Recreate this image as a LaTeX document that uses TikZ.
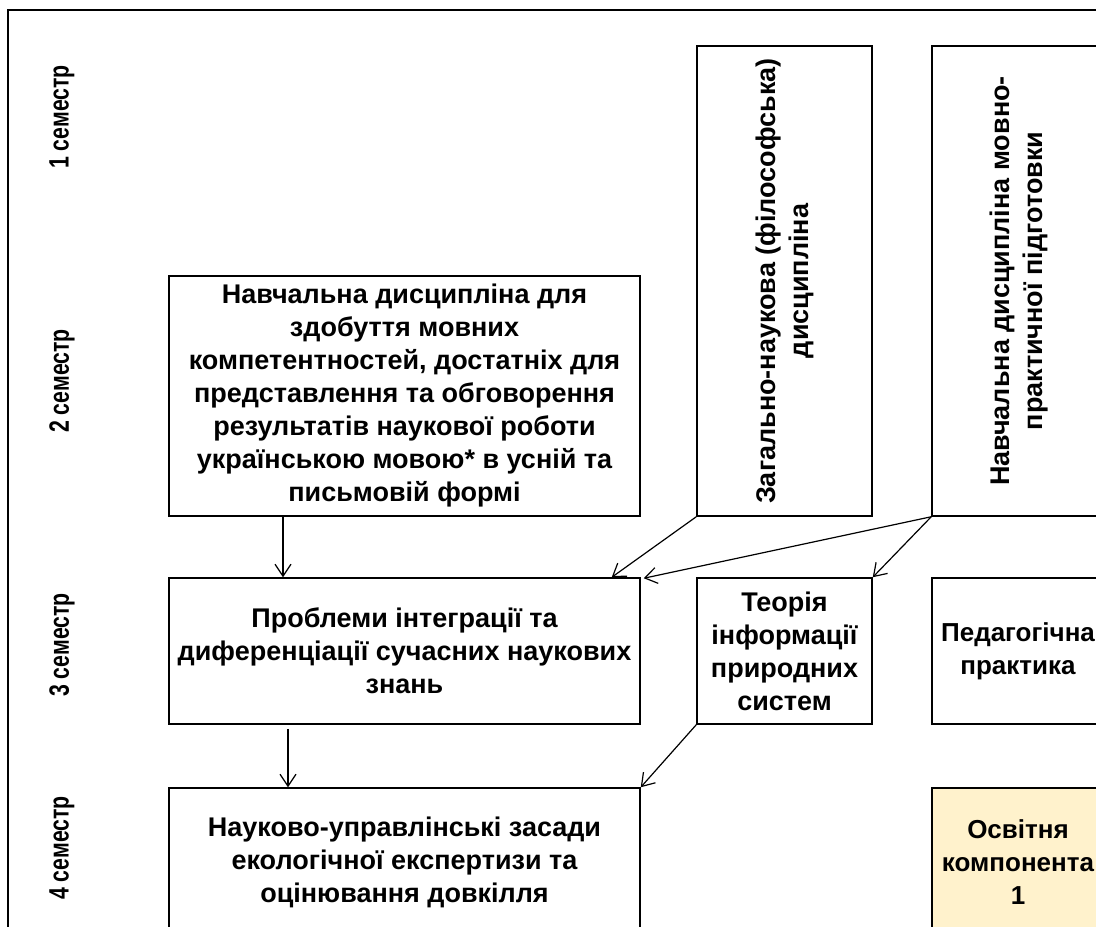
\documentclass[tikz,border=0pt]{standalone}
\usepackage{fontspec}
\setmainfont{Liberation Sans}
\newfontfamily\narrowfont[FakeStretch=0.76]{Liberation Sans}
\usetikzlibrary{arrows.meta}
\definecolor{cream}{RGB}{255,242,204}
\begin{document}
\begin{tikzpicture}[x=1pt,y=-1pt,
  box/.style={draw=black, line width=1.5pt, inner sep=0pt},
  txt/.style={align=center, inner sep=0pt, font=\fontsize{27}{33}\selectfont\bfseries},
  smalltxt/.style={txt, font=\fontsize{26}{33}\selectfont\bfseries},
  sem/.style={inner sep=0pt, rotate=90, font=\narrowfont\fontsize{28}{30}\selectfont\bfseries},
  arr/.style={draw=black, line width=1.2pt, -{Straight Barb[length=12pt,width=16pt]}}]
\useasboundingbox (0,0) rectangle (1096,927);
\clip (0,0) rectangle (1096,927);
% frame
\draw[line width=2pt] (8,940) -- (8,10) -- (1110,10);
% semester labels
\node[sem] (s1) at (62,117) {1 семестр};
\node[sem] (s2) at (62,381) {2 семестр};
\node[sem] (s3) at (62,645) {3 семестр};
\node[sem] (s4) at (62,848) {4 семестр};
% boxes
\node[box, minimum width=471, minimum height=240] (A) at (404.5,396) {};
\node[txt] (At) at (A.center) {Навчальна дисципліна для\\ здобуття мовних\\ компетентностей, достатніх для\\ представлення та обговорення\\ результатів наукової роботи\\ українською мовою* в усній та\\ письмовій формі};
\node[box, minimum width=175, minimum height=470] (B) at (784.5,281) {};
\node[txt, rotate=90] (Bt) at (B.center) {Загально-наукова (філософська)\\ дисципліна};
\node[box, minimum width=175, minimum height=470] (C) at (1019.5,281) {};
\node[txt, rotate=90] (Ct) at (C.center) {Навчальна дисципліна мовно-\\ практичної підготовки};
\node[box, minimum width=471, minimum height=146] (D) at (404.5,651) {};
\node[txt] (Dt) at (D.center) {Проблеми інтеграції та\\ диференціації сучасних наукових\\ знань};
\node[box, minimum width=175, minimum height=146] (E) at (784.5,651) {};
\node[txt] (Et) at (E.center) {Теорія\\ інформації\\ природних\\ систем};
\node[box, minimum width=175, minimum height=146] (F) at (1019.5,651) {};
\node[smalltxt] (Ft) at ([xshift=-1.5pt]F.center) {Педагогічна\\ практика};
\node[box, minimum width=471, minimum height=148] (G) at (404.5,862) {};
\node[txt] (Gt) at (G.center) {Науково-управлінські засади\\ екологічної експертизи та\\ оцінювання довкілля};
\node[box, fill=cream, minimum width=175, minimum height=148] (H) at (1019.5,862) {};
\node[smalltxt] (Ht) at ([xshift=-1.5pt]H.center) {Освітня\\ компонента\\ 1};
% arrows
\draw[arr] ([xshift=-121.5pt]A.south) -- ([xshift=-121.5pt]D.north);
\draw[arr] ([xshift=-116.5pt,yshift=-4pt]D.south) -- ([xshift=-116.5pt]G.north);
\draw[arr] (B.south west) -- ([xshift=-29pt]D.north east);
\draw[arr] (C.south west) -- ([xshift=3pt,yshift=-1pt]D.north east);
\draw[arr] (C.south west) -- (E.north east);
\draw[arr] (E.south west) -- (G.north east);
\end{tikzpicture}
\end{document}
